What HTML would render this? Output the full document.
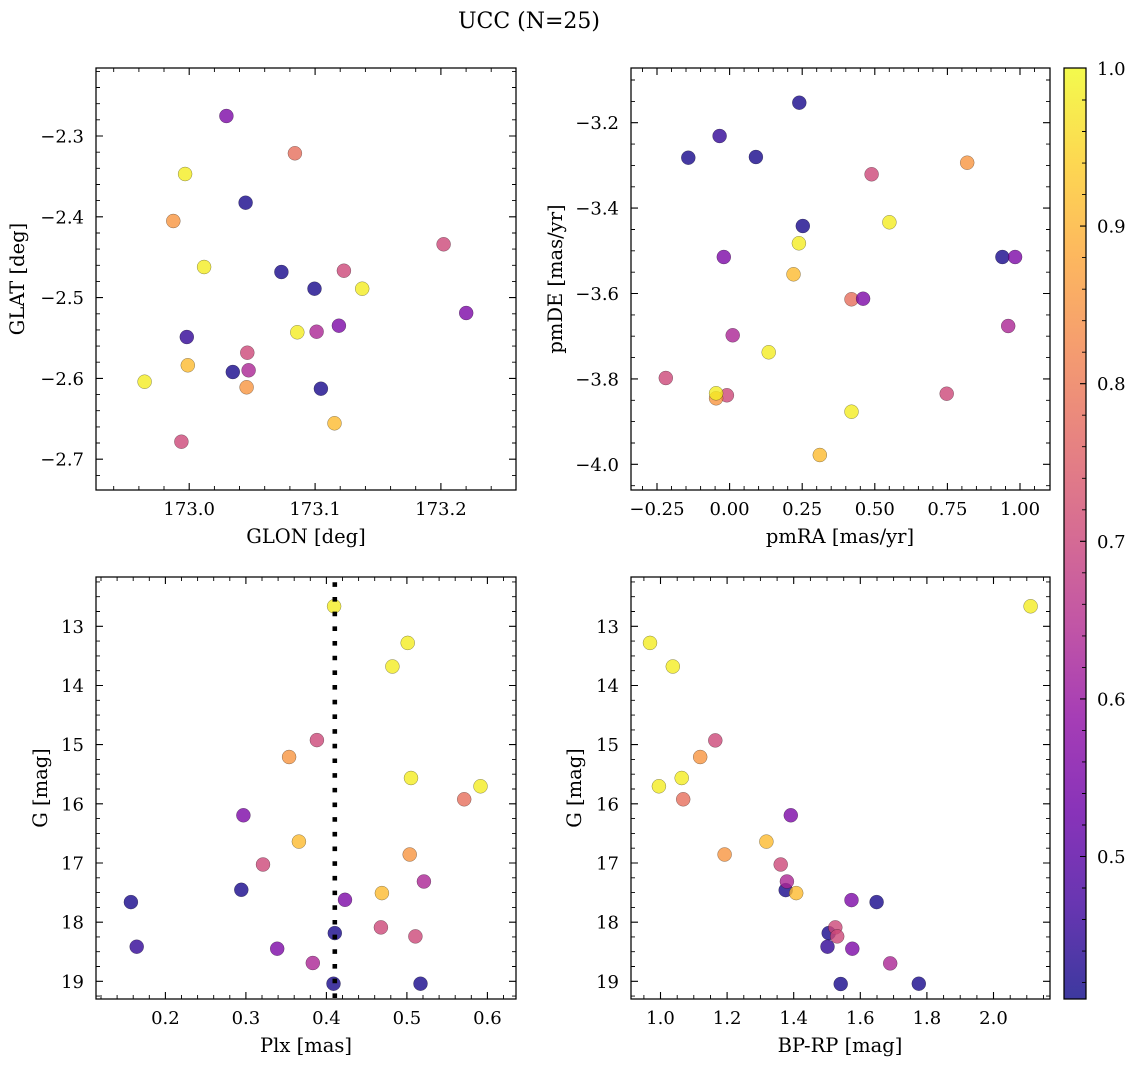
<!DOCTYPE html>
<html><head><meta charset="utf-8"><style>
html,body{margin:0;padding:0;background:#fff;}
svg{display:block;}
text{font-family:"DejaVu Serif","Liberation Serif",serif;fill:#000;}
.t{font-size:18px;}
.l{font-size:19.5px;}
.fr{fill:none;stroke:#000;stroke-width:1.25;}
.mj{fill:none;stroke:#000;stroke-width:1.1;}
.mn{fill:none;stroke:#000;stroke-width:0.9;}
circle{stroke:#000;stroke-width:0.5;stroke-opacity:0.45;fill-opacity:0.8;}
.DB{fill:#17078b}.IN{fill:#310596}.PU{fill:#7c07a6}.MA{fill:#aa2494}.PK{fill:#cc4778}
.SA{fill:#e66e5b}.OR{fill:#f79540}.OY{fill:#fcba2e}.YE{fill:#f4ec22}
</style></head><body>
<svg width="1136" height="1067" viewBox="0 0 1136 1067" xmlns="http://www.w3.org/2000/svg">
<defs>
<linearGradient id="pl" x1="0" y1="1" x2="0" y2="0">
<stop offset="0" stop-color="#3d399f"/><stop offset="0.1" stop-color="#6736b1"/>
<stop offset="0.2" stop-color="#8833b9"/><stop offset="0.3" stop-color="#a53db6"/>
<stop offset="0.4" stop-color="#c155a6"/><stop offset="0.5" stop-color="#d66c93"/>
<stop offset="0.6" stop-color="#e78381"/><stop offset="0.7" stop-color="#f59d6f"/>
<stop offset="0.8" stop-color="#fdb85e"/><stop offset="0.9" stop-color="#fdd851"/>
<stop offset="1" stop-color="#f3fa4d"/>
</linearGradient>
</defs>
<rect width="1136" height="1067" fill="#fff"/>
<text x="529" y="28" text-anchor="middle" style="font-size:22px">UCC (N=25)</text>

<!-- ===== Panel 1 ===== -->
<g>
<circle class="PU" cx="226.4" cy="116" r="7"/>
<circle class="SA" cx="294.9" cy="153.3" r="7"/>
<circle class="YE" cx="185.1" cy="174" r="7"/>
<circle class="DB" cx="245.6" cy="202.7" r="7"/>
<circle class="OR" cx="173.3" cy="221" r="7"/>
<circle class="PK" cx="443.6" cy="244.3" r="7"/>
<circle class="YE" cx="204.1" cy="267" r="7"/>
<circle class="DB" cx="281.4" cy="272" r="7"/>
<circle class="PK" cx="343.9" cy="270.7" r="7"/>
<circle class="DB" cx="314.5" cy="288.7" r="7"/>
<circle class="YE" cx="362.2" cy="288.7" r="7"/>
<circle class="PU" cx="466.2" cy="313" r="7"/>
<circle class="IN" cx="186.8" cy="337" r="7"/>
<circle class="YE" cx="297.3" cy="332.3" r="7"/>
<circle class="MA" cx="316.6" cy="331.7" r="7"/>
<circle class="PU" cx="338.9" cy="325.7" r="7"/>
<circle class="PK" cx="247.3" cy="352.7" r="7"/>
<circle class="OY" cx="187.8" cy="365.3" r="7"/>
<circle class="DB" cx="232.8" cy="372" r="7"/>
<circle class="MA" cx="248.6" cy="370.3" r="7"/>
<circle class="YE" cx="144.6" cy="381.7" r="7"/>
<circle class="OR" cx="246.6" cy="387.3" r="7"/>
<circle class="DB" cx="320.9" cy="388.7" r="7"/>
<circle class="OY" cx="334.5" cy="423.3" r="7"/>
<circle class="PK" cx="181.4" cy="441.7" r="7"/>
</g>
<rect class="fr" x="96" y="68" width="420" height="422"/>
<path class="mj" d="M189.2 490v-7M315.1 490v-7M440.9 490v-7M189.2 68v7M315.1 68v7M440.9 68v7
M96 136h7M96 216.8h7M96 297.6h7M96 378.4h7M96 459.2h7M516 136h-7M516 216.8h-7M516 297.6h-7M516 378.4h-7M516 459.2h-7"/>
<path class="mn" d="M113.7 490v-4M138.9 490v-4M164 490v-4M214.4 490v-4M239.5 490v-4M264.7 490v-4M289.9 490v-4M340.2 490v-4M365.4 490v-4M390.6 490v-4M415.7 490v-4M466.1 490v-4M491.2 490v-4
M113.7 68v4M138.9 68v4M164 68v4M214.4 68v4M239.5 68v4M264.7 68v4M289.9 68v4M340.2 68v4M365.4 68v4M390.6 68v4M415.7 68v4M466.1 68v4M491.2 68v4
M96 71.4h4M96 87.5h4M96 103.7h4M96 119.8h4M96 152.2h4M96 168.3h4M96 184.5h4M96 200.6h4M96 233h4M96 249.1h4M96 265.3h4M96 281.4h4M96 313.8h4M96 329.9h4M96 346.1h4M96 362.2h4M96 394.6h4M96 410.7h4M96 426.9h4M96 443h4M96 475.4h4
M516 71.4h-4M516 87.5h-4M516 103.7h-4M516 119.8h-4M516 152.2h-4M516 168.3h-4M516 184.5h-4M516 200.6h-4M516 233h-4M516 249.1h-4M516 265.3h-4M516 281.4h-4M516 313.8h-4M516 329.9h-4M516 346.1h-4M516 362.2h-4M516 394.6h-4M516 410.7h-4M516 426.9h-4M516 443h-4M516 475.4h-4"/>
<g class="t" text-anchor="middle">
<text x="189.2" y="515">173.0</text><text x="315.1" y="515">173.1</text><text x="440.9" y="515">173.2</text>
</g>
<g class="t" text-anchor="end">
<text x="84" y="142.5">−2.3</text><text x="84" y="223.3">−2.4</text><text x="84" y="304.1">−2.5</text><text x="84" y="384.9">−2.6</text><text x="84" y="465.7">−2.7</text>
</g>
<text class="l" x="306" y="543" text-anchor="middle">GLON [deg]</text>
<text class="l" x="24" y="279" text-anchor="middle" transform="rotate(-90 24 279)">GLAT [deg]</text>

<!-- ===== Panel 2 ===== -->
<g>
<circle class="DB" cx="799.3" cy="102.7" r="7"/>
<circle class="IN" cx="719.6" cy="136" r="7"/>
<circle class="DB" cx="688.3" cy="157.7" r="7"/>
<circle class="DB" cx="755.9" cy="157" r="7"/>
<circle class="OR" cx="967.2" cy="162.7" r="7"/>
<circle class="PK" cx="871.6" cy="174.3" r="7"/>
<circle class="YE" cx="889.4" cy="222.3" r="7"/>
<circle class="DB" cx="802.8" cy="226" r="7"/>
<circle class="YE" cx="798.9" cy="243.3" r="7"/>
<circle class="PU" cx="723.8" cy="257" r="7"/>
<circle class="DB" cx="1002.4" cy="257" r="7"/>
<circle class="PU" cx="1015.1" cy="257" r="7"/>
<circle class="OY" cx="793.5" cy="274.3" r="7"/>
<circle class="SA" cx="851.5" cy="299.3" r="7"/>
<circle class="PU" cx="863.1" cy="298.7" r="7"/>
<circle class="MA" cx="1008.2" cy="326" r="7"/>
<circle class="MA" cx="732.7" cy="335.3" r="7"/>
<circle class="YE" cx="768.7" cy="352.3" r="7"/>
<circle class="PK" cx="665.8" cy="378" r="7"/>
<circle class="PK" cx="946.7" cy="393.7" r="7"/>
<circle class="PK" cx="726.9" cy="395.3" r="7"/>
<circle class="OR" cx="716.1" cy="398.3" r="7"/>
<circle class="YE" cx="716.1" cy="393.3" r="7"/>
<circle class="YE" cx="851.5" cy="411.7" r="7"/>
<circle class="OY" cx="819.8" cy="455" r="7"/>
</g>
<rect class="fr" x="631" y="68" width="419" height="422"/>
<path class="mj" d="M657 490v-7M729.6 490v-7M802.2 490v-7M874.8 490v-7M947.4 490v-7M1020 490v-7M657 68v7M729.6 68v7M802.2 68v7M874.8 68v7M947.4 68v7M1020 68v7
M631 122.7h7M631 208.1h7M631 293.5h7M631 378.9h7M631 464.3h7M1050 122.7h-7M1050 208.1h-7M1050 293.5h-7M1050 378.9h-7M1050 464.3h-7"/>
<path class="mn" d="M642.5 490v-4M671.5 490v-4M686 490v-4M700.6 490v-4M715.1 490v-4M744.1 490v-4M758.6 490v-4M773.2 490v-4M787.7 490v-4M816.7 490v-4M831.2 490v-4M845.8 490v-4M860.3 490v-4M889.3 490v-4M903.8 490v-4M918.4 490v-4M932.9 490v-4M961.9 490v-4M976.4 490v-4M991 490v-4M1005.5 490v-4M1034.5 490v-4
M642.5 68v4M671.5 68v4M686 68v4M700.6 68v4M715.1 68v4M744.1 68v4M758.6 68v4M773.2 68v4M787.7 68v4M816.7 68v4M831.2 68v4M845.8 68v4M860.3 68v4M889.3 68v4M903.8 68v4M918.4 68v4M932.9 68v4M961.9 68v4M976.4 68v4M991 68v4M1005.5 68v4M1034.5 68v4
M631 80h4M631 101.4h4M631 144.1h4M631 165.4h4M631 186.8h4M631 229.5h4M631 250.8h4M631 272.2h4M631 314.9h4M631 336.2h4M631 357.6h4M631 400.3h4M631 421.6h4M631 443h4M631 485.7h4
M1050 80h-4M1050 101.4h-4M1050 144.1h-4M1050 165.4h-4M1050 186.8h-4M1050 229.5h-4M1050 250.8h-4M1050 272.2h-4M1050 314.9h-4M1050 336.2h-4M1050 357.6h-4M1050 400.3h-4M1050 421.6h-4M1050 443h-4M1050 485.7h-4"/>
<g class="t" text-anchor="middle">
<text x="657" y="515">−0.25</text><text x="729.6" y="515">0.00</text><text x="802.2" y="515">0.25</text><text x="874.8" y="515">0.50</text><text x="947.4" y="515">0.75</text><text x="1020" y="515">1.00</text>
</g>
<g class="t" text-anchor="end">
<text x="619" y="129.2">−3.2</text><text x="619" y="214.6">−3.4</text><text x="619" y="300">−3.6</text><text x="619" y="385.4">−3.8</text><text x="619" y="470.8">−4.0</text>
</g>
<text class="l" x="840" y="543" text-anchor="middle">pmRA [mas/yr]</text>
<text class="l" x="562" y="279" text-anchor="middle" transform="rotate(-90 562 279)">pmDE [mas/yr]</text>

<!-- ===== Panel 3 ===== -->
<g>
<circle class="YE" cx="334.1" cy="606.3" r="7"/>
<circle class="YE" cx="407.7" cy="642.9" r="7"/>
<circle class="YE" cx="392.4" cy="666.5" r="7"/>
<circle class="PK" cx="316.9" cy="740.1" r="7"/>
<circle class="OR" cx="289.1" cy="757" r="7"/>
<circle class="YE" cx="411" cy="778" r="7"/>
<circle class="YE" cx="480.5" cy="786.3" r="7"/>
<circle class="SA" cx="464.2" cy="799.3" r="7"/>
<circle class="PU" cx="243.4" cy="815.3" r="7"/>
<circle class="OY" cx="298.9" cy="841.6" r="7"/>
<circle class="PK" cx="263" cy="864.5" r="7"/>
<circle class="OR" cx="409.7" cy="854.5" r="7"/>
<circle class="MA" cx="423.9" cy="881.5" r="7"/>
<circle class="DB" cx="241.3" cy="889.8" r="7"/>
<circle class="OY" cx="381.9" cy="893.1" r="7"/>
<circle class="DB" cx="130.9" cy="902.1" r="7"/>
<circle class="PU" cx="345" cy="899.8" r="7"/>
<circle class="PK" cx="380.9" cy="927.4" r="7"/>
<circle class="DB" cx="334.8" cy="933.1" r="7"/>
<circle class="PK" cx="415.4" cy="936.4" r="7"/>
<circle class="IN" cx="136.7" cy="946.7" r="7"/>
<circle class="PU" cx="277.2" cy="948.7" r="7"/>
<circle class="MA" cx="312.8" cy="963" r="7"/>
<circle class="DB" cx="333.5" cy="983.7" r="7"/>
<circle class="DB" cx="420.5" cy="983.7" r="7"/>
</g>
<line x1="334.8" y1="582.3" x2="334.8" y2="998" stroke="#000" stroke-width="4.6" stroke-dasharray="4.6 10.08"/>
<rect class="fr" x="96" y="577" width="420" height="422"/>
<path class="mj" d="M165.4 999v-7M245.9 999v-7M326.4 999v-7M406.9 999v-7M487.4 999v-7M165.4 577v7M245.9 577v7M326.4 577v7M406.9 577v7M487.4 577v7
M96 626.3h7M96 685.5h7M96 744.6h7M96 803.8h7M96 863h7M96 922.2h7M96 981.3h7M516 626.3h-7M516 685.5h-7M516 744.6h-7M516 803.8h-7M516 863h-7M516 922.2h-7M516 981.3h-7"/>
<path class="mn" d="M101 999v-4M117.1 999v-4M133.2 999v-4M149.3 999v-4M181.5 999v-4M197.6 999v-4M213.7 999v-4M229.8 999v-4M262 999v-4M278.1 999v-4M294.2 999v-4M310.3 999v-4M342.5 999v-4M358.6 999v-4M374.7 999v-4M390.8 999v-4M423 999v-4M439.1 999v-4M455.2 999v-4M471.3 999v-4M503.5 999v-4
M101 577v4M117.1 577v4M133.2 577v4M149.3 577v4M181.5 577v4M197.6 577v4M213.7 577v4M229.8 577v4M262 577v4M278.1 577v4M294.2 577v4M310.3 577v4M342.5 577v4M358.6 577v4M374.7 577v4M390.8 577v4M423 577v4M439.1 577v4M455.2 577v4M471.3 577v4M503.5 577v4
M96 581.9h4M96 596.7h4M96 611.5h4M96 641.1h4M96 655.9h4M96 670.7h4M96 700.3h4M96 715.1h4M96 729.9h4M96 759.4h4M96 774.2h4M96 789h4M96 818.6h4M96 833.4h4M96 848.2h4M96 877.8h4M96 892.6h4M96 907.4h4M96 936.9h4M96 951.7h4M96 966.5h4M96 996.1h4
M516 581.9h-4M516 596.7h-4M516 611.5h-4M516 641.1h-4M516 655.9h-4M516 670.7h-4M516 700.3h-4M516 715.1h-4M516 729.9h-4M516 759.4h-4M516 774.2h-4M516 789h-4M516 818.6h-4M516 833.4h-4M516 848.2h-4M516 877.8h-4M516 892.6h-4M516 907.4h-4M516 936.9h-4M516 951.7h-4M516 966.5h-4M516 996.1h-4"/>
<g class="t" text-anchor="middle">
<text x="165.4" y="1024">0.2</text><text x="245.9" y="1024">0.3</text><text x="326.4" y="1024">0.4</text><text x="406.9" y="1024">0.5</text><text x="487.4" y="1024">0.6</text>
</g>
<g class="t" text-anchor="end">
<text x="84" y="632.8">13</text><text x="84" y="692">14</text><text x="84" y="751.1">15</text><text x="84" y="810.3">16</text><text x="84" y="869.5">17</text><text x="84" y="928.7">18</text><text x="84" y="987.8">19</text>
</g>
<text class="l" x="306" y="1052" text-anchor="middle">Plx [mas]</text>
<text class="l" x="47" y="788" text-anchor="middle" transform="rotate(-90 47 788)">G [mag]</text>

<!-- ===== Panel 4 ===== -->
<g>
<circle class="YE" cx="1030.6" cy="606.3" r="7"/>
<circle class="YE" cx="650" cy="642.9" r="7"/>
<circle class="YE" cx="672.8" cy="666.5" r="7"/>
<circle class="PK" cx="715.3" cy="740.4" r="7"/>
<circle class="OR" cx="700.2" cy="757" r="7"/>
<circle class="YE" cx="681.7" cy="778" r="7"/>
<circle class="YE" cx="658.9" cy="786.3" r="7"/>
<circle class="SA" cx="683.2" cy="799.3" r="7"/>
<circle class="PU" cx="790.8" cy="815.3" r="7"/>
<circle class="OY" cx="766.4" cy="841.6" r="7"/>
<circle class="OR" cx="724.6" cy="854.5" r="7"/>
<circle class="PK" cx="780.7" cy="864.5" r="7"/>
<circle class="DB" cx="785.7" cy="890.1" r="7"/>
<circle class="MA" cx="786.9" cy="881.5" r="7"/>
<circle class="OY" cx="796.2" cy="893.1" r="7"/>
<circle class="PU" cx="851.5" cy="900.1" r="7"/>
<circle class="DB" cx="876.6" cy="902.1" r="7"/>
<circle class="DB" cx="828.7" cy="933.1" r="7"/>
<circle class="PK" cx="835.3" cy="927.4" r="7"/>
<circle class="PK" cx="837.2" cy="936.4" r="7"/>
<circle class="IN" cx="827.5" cy="946.7" r="7"/>
<circle class="PU" cx="852.3" cy="948.7" r="7"/>
<circle class="MA" cx="890.2" cy="963.4" r="7"/>
<circle class="DB" cx="840.7" cy="984" r="7"/>
<circle class="DB" cx="918.8" cy="983.7" r="7"/>
</g>
<rect class="fr" x="631" y="577" width="419" height="422"/>
<path class="mj" d="M660.5 999v-7M727.1 999v-7M793.7 999v-7M860.3 999v-7M926.9 999v-7M993.5 999v-7M660.5 577v7M727.1 577v7M793.7 577v7M860.3 577v7M926.9 577v7M993.5 577v7
M631 626.3h7M631 685.5h7M631 744.6h7M631 803.8h7M631 863h7M631 922.2h7M631 981.3h7M1050 626.3h-7M1050 685.5h-7M1050 744.6h-7M1050 803.8h-7M1050 863h-7M1050 922.2h-7M1050 981.3h-7"/>
<path class="mn" d="M643.9 999v-4M677.2 999v-4M693.8 999v-4M710.5 999v-4M743.8 999v-4M760.4 999v-4M777.1 999v-4M810.4 999v-4M827 999v-4M843.7 999v-4M877 999v-4M893.6 999v-4M910.3 999v-4M943.6 999v-4M960.2 999v-4M976.9 999v-4M1010.2 999v-4M1026.8 999v-4M1043.5 999v-4
M643.9 577v4M677.2 577v4M693.8 577v4M710.5 577v4M743.8 577v4M760.4 577v4M777.1 577v4M810.4 577v4M827 577v4M843.7 577v4M877 577v4M893.6 577v4M910.3 577v4M943.6 577v4M960.2 577v4M976.9 577v4M1010.2 577v4M1026.8 577v4M1043.5 577v4
M631 581.9h4M631 596.7h4M631 611.5h4M631 641.1h4M631 655.9h4M631 670.7h4M631 700.3h4M631 715.1h4M631 729.9h4M631 759.4h4M631 774.2h4M631 789h4M631 818.6h4M631 833.4h4M631 848.2h4M631 877.8h4M631 892.6h4M631 907.4h4M631 936.9h4M631 951.7h4M631 966.5h4M631 996.1h4
M1050 581.9h-4M1050 596.7h-4M1050 611.5h-4M1050 641.1h-4M1050 655.9h-4M1050 670.7h-4M1050 700.3h-4M1050 715.1h-4M1050 729.9h-4M1050 759.4h-4M1050 774.2h-4M1050 789h-4M1050 818.6h-4M1050 833.4h-4M1050 848.2h-4M1050 877.8h-4M1050 892.6h-4M1050 907.4h-4M1050 936.9h-4M1050 951.7h-4M1050 966.5h-4M1050 996.1h-4"/>
<g class="t" text-anchor="middle">
<text x="660.5" y="1024">1.0</text><text x="727.1" y="1024">1.2</text><text x="793.7" y="1024">1.4</text><text x="860.3" y="1024">1.6</text><text x="926.9" y="1024">1.8</text><text x="993.5" y="1024">2.0</text>
</g>
<g class="t" text-anchor="end">
<text x="619" y="632.8">13</text><text x="619" y="692">14</text><text x="619" y="751.1">15</text><text x="619" y="810.3">16</text><text x="619" y="869.5">17</text><text x="619" y="928.7">18</text><text x="619" y="987.8">19</text>
</g>
<text class="l" x="840" y="1052" text-anchor="middle">BP-RP [mag]</text>
<text class="l" x="581" y="788" text-anchor="middle" transform="rotate(-90 581 788)">G [mag]</text>

<!-- ===== Colorbar ===== -->
<rect x="1064" y="68" width="22" height="931" fill="url(#pl)"/>
<rect class="fr" x="1064" y="68" width="22" height="931"/>
<path class="mj" d="M1086 226.1h-6M1086 383.7h-6M1086 541.3h-6M1086 698.9h-6M1086 856.5h-6"/>
<path class="mn" d="M1086 100h-4M1086 131.5h-4M1086 163.1h-4M1086 194.6h-4M1086 257.6h-4M1086 289.2h-4M1086 320.7h-4M1086 352.2h-4M1086 415.2h-4M1086 446.7h-4M1086 478.3h-4M1086 509.8h-4M1086 572.8h-4M1086 604.3h-4M1086 635.9h-4M1086 667.4h-4M1086 730.4h-4M1086 761.9h-4M1086 793.5h-4M1086 825h-4M1086 888h-4M1086 919.5h-4M1086 951.1h-4M1086 982.6h-4"/>
<g class="t">
<text x="1097" y="75">1.0</text><text x="1097" y="232.6">0.9</text><text x="1097" y="390.2">0.8</text><text x="1097" y="547.8">0.7</text><text x="1097" y="705.4">0.6</text><text x="1097" y="863">0.5</text>
</g>
</svg>
</body></html>
